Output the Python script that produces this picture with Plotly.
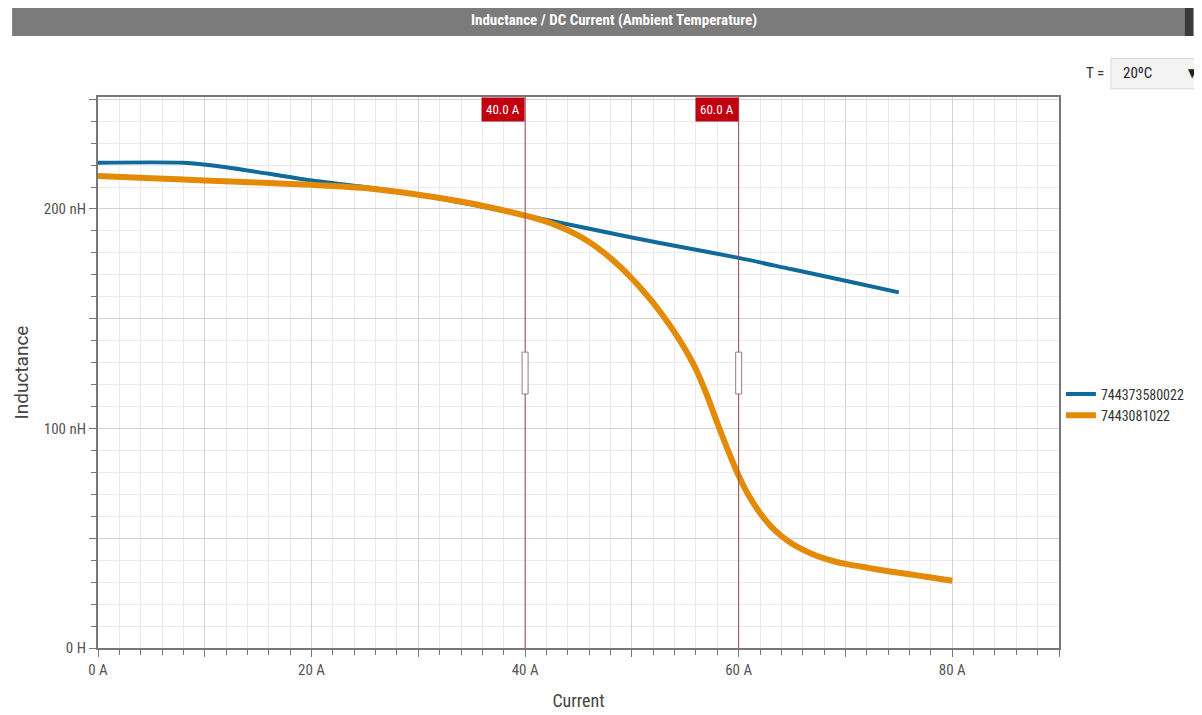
import plotly.graph_objects as go

# ---- data ----
current_blue = [0, 8, 12, 16, 20, 25, 30, 35, 40, 45, 50, 55, 60, 65, 70, 75]
induct_blue = [221, 221, 219, 216, 213, 210, 206.5, 202, 197, 192, 187, 182.3, 177.7, 172.5, 167.3, 162]

current_orange = [0, 5, 10, 15, 20, 25, 30, 35, 40, 41, 42, 43, 44, 45, 46, 47, 48, 49, 50,
                  51, 52, 53, 54, 55, 56, 57, 58, 59, 60, 61, 62, 63, 64, 65, 66, 67, 68, 69, 70,
                  72, 74, 76, 78, 80]
induct_orange = [215, 214, 213, 212, 211, 209.5, 206.5, 202.5, 197, 195.7, 194.2, 192.4, 190.3, 187.8, 184.9, 181.5, 177.6, 173.2, 168.3,
                 163, 157.2, 150.8, 143.8, 136, 127, 115.5, 102.5, 90, 78.5, 69, 61.5, 55.5, 51, 47.5, 44.8, 42.6, 40.8, 39.4, 38.3,
                 36.6, 35, 33.6, 32.1, 30.6]

series_names = ["744373580022", "7443081022"]
series_colors = ["#106a9c", "#e38b06"]

marker_currents = [40, 60]
marker_labels = ["40.0 A", "60.0 A"]

x_tickvals = [0, 10, 20, 30, 40, 50, 60, 70, 80, 90]
x_ticktext = ["0 A", "", "20 A", "", "40 A", "", "60 A", "", "80 A", ""]
y_tickvals = [0, 50, 100, 150, 200, 250]
y_ticktext = ["0 H", "", "100 nH", "", "200 nH", ""]

title_text = "Inductance / DC Current (Ambient Temperature)"
FONT = "Liberation Sans Narrow, Roboto Condensed, DejaVu Sans Condensed, Arial Narrow, sans-serif"

fig = go.Figure()
fig.add_trace(go.Scatter(x=current_blue, y=induct_blue, mode="lines", name=series_names[0],
                         line=dict(color=series_colors[0], width=4, shape="spline", smoothing=0.8)))
fig.add_trace(go.Scatter(x=current_orange, y=induct_orange, mode="lines", name=series_names[1],
                         line=dict(color=series_colors[1], width=6, shape="spline", smoothing=0.8)))

shapes = []
annotations = []

# title bar
shapes.append(dict(type="rect", xref="paper", yref="paper", x0=-0.0894, x1=1.1305, y0=1.1107, y1=1.167,
                   fillcolor="#7b7b7b", line=dict(width=0), layer="above"))
shapes.append(dict(type="rect", xref="paper", yref="paper", x0=1.1305, x1=1.14, y0=1.1107, y1=1.167,
                   fillcolor="#3a3a3a", line=dict(width=0), layer="above"))
annotations.append(dict(text="<b>" + title_text + "</b>", xref="paper", yref="paper", x=0.5365, y=1.1397,
                        showarrow=False, xanchor="center", yanchor="middle",
                        font=dict(family=FONT, size=15, color="white")))

# temperature selector
shapes.append(dict(type="rect", xref="paper", yref="paper", x0=1.054, x1=1.16, y0=1.015, y1=1.07,
                   fillcolor="#f3f3f3", line=dict(color="#d8d8d8", width=1), layer="above"))
annotations.append(dict(text="T =", xref="paper", yref="paper", x=1.049, y=1.044, showarrow=False,
                        xanchor="right", yanchor="middle", font=dict(family=FONT, size=15, color="#333")))
annotations.append(dict(text="20ºC", xref="paper", yref="paper", x=1.064, y=1.044, showarrow=False,
                        xanchor="left", yanchor="middle", font=dict(family=FONT, size=15, color="#222")))
annotations.append(dict(text="▼", xref="paper", yref="paper", x=1.132, y=1.044, showarrow=False,
                        xanchor="left", yanchor="middle", font=dict(family=FONT, size=12, color="#222")))

# marker lines
for xc, lab in zip(marker_currents, marker_labels):
    shapes.append(dict(type="line", xref="x", yref="paper", x0=xc, x1=xc, y0=0, y1=1,
                       line=dict(color="#9b4a52", width=1), layer="above"))
    shapes.append(dict(type="rect", xref="x", yref="paper", x0=xc - 0.28, x1=xc + 0.28, y0=0.461, y1=0.537,
                       fillcolor="white", line=dict(color="#9b7a80", width=1), layer="above"))
    annotations.append(dict(text=lab, xref="x", yref="paper", x=xc, y=1, showarrow=False,
                            xanchor="right", yanchor="top", bgcolor="#c00010", borderpad=4,
                            font=dict(family=FONT, size=13, color="white")))

fig.update_layout(
    width=1194, height=707,
    margin=dict(l=88, r=133, t=89, b=67),
    paper_bgcolor="white", plot_bgcolor="white",
    font=dict(family=FONT, size=13, color="#555"),
    shapes=shapes, annotations=annotations,
    showlegend=True,
    legend=dict(x=1.002, y=0.441, xanchor="left", yanchor="middle",
                font=dict(family=FONT, size=14, color="#333"), bgcolor="rgba(0,0,0,0)",
                itemwidth=30, tracegroupgap=0),
)

fig.update_xaxes(
    range=[0, 90], tickvals=x_tickvals, ticktext=x_ticktext,
    showline=True, linecolor="#777", linewidth=2, mirror=True,
    ticks="outside", ticklen=7, tickcolor="#777", tickwidth=1,
    showgrid=True, gridcolor="#d3d3d3", gridwidth=1,
    minor=dict(dtick=2, ticks="outside", ticklen=5, tickcolor="#777", showgrid=True, gridcolor="#ebebeb", gridwidth=1),
    zeroline=False, automargin=False,
    tickfont=dict(family=FONT, size=15, color="#555"),
    title=dict(text="Current", font=dict(family=FONT, size=18, color="#444"), standoff=16),
)
fig.update_yaxes(
    range=[0, 251], tickvals=y_tickvals, ticktext=y_ticktext,
    showline=True, linecolor="#777", linewidth=2, mirror=True,
    ticks="outside", ticklen=7, tickcolor="#777", tickwidth=1,
    showgrid=True, gridcolor="#d3d3d3", gridwidth=1,
    minor=dict(dtick=10, ticks="outside", ticklen=5, tickcolor="#777", showgrid=True, gridcolor="#ebebeb", gridwidth=1),
    zeroline=False,
    tickfont=dict(family=FONT, size=15, color="#555"),
    title=dict(text="Inductance", font=dict(family="Roboto, DejaVu Sans, sans-serif", size=19, color="#444"), standoff=10),
)

fig.write_html("out.html")
